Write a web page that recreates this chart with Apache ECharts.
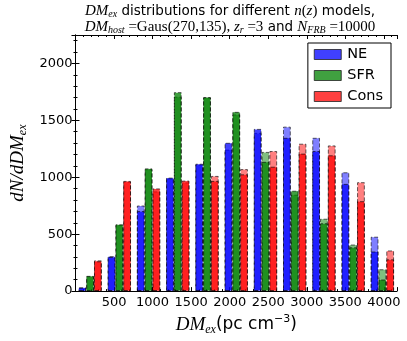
<!DOCTYPE html>
<html>
<head>
<meta charset="utf-8">
<script src="https://cdn.jsdelivr.net/npm/echarts@6/dist/echarts.min.js"></script>
</head>
<body style="margin:0;background:#fff">
<div id="main" style="width:407px;height:341px"></div>
<script>
// bin centres (DM_ex, pc cm^-3)
var binCenters = ['189', '566', '943', '1320', '1697', '2074', '2451', '2828', '3205', '3582', '3959'];

// two overlaid histograms per model: "a" drawn lighter, "b" darker
var neA   = [33, 307, 752, 990, 1110, 1243, 1390, 1445, 1347, 1044, 478];
var neB   = [30, 300, 703, 997, 1119, 1303, 1425, 1347, 1231, 942, 348];
var sfrA  = [130, 580, 1070, 1708, 1700, 1552, 1223, 847, 636, 409, 192];
var sfrB  = [134, 587, 1078, 1748, 1705, 1575, 1136, 882, 596, 385, 102];
var consA = [270, 960, 876, 955, 1012, 1072, 1231, 1295, 1280, 957, 357];
var consB = [262, 968, 902, 971, 968, 1026, 1093, 1208, 1193, 790, 279];

var chart = echarts.init(document.getElementById('main'));

var serif = 'Liberation Serif';
var sans = 'DejaVu Sans';

//柱子
function bar(name, data, rgb, alpha, axisIdx) {
    return {
        name: name,
        type: 'bar',
        xAxisIndex: axisIdx,
        yAxisIndex: 0,
        data: data,
        barGap: '0%',
        barCategoryGap: '20%',
        itemStyle: {
            color: 'rgba(' + rgb + ',' + alpha + ')',
            borderColor: 'rgba(0,0,0,0.6)',
            borderWidth: 1,
            borderType: [4, 2]
        }
    };
}

function plain(v) { return String(v); }

var tickStyle = {inside: true, length: 4, lineStyle: {color: '#000'}};
var minorStyle = {show: true, splitNumber: 5, length: 2, lineStyle: {color: '#000'}};
var lineStyle = {show: true, lineStyle: {color: '#000', width: 1}};

var option = {
    animation: false,
    backgroundColor: '#fff',
    title: {
        left: 230,
        top: 3,
        padding: 0,
        textAlign: 'center',
        text: '{m|DM}{s|ex}{t| distributions for different }{m|n}{r|(}{m|z}{r|)}{t| models,}\n' +
              '{m|DM}{s|host}{r| =Gaus(270,135), }{m|z}{s|r}{r| =3}{t| and }{m|N}{s|FRB}{r| =10000}',
        textStyle: {
            fontWeight: 'normal',
            rich: {
                m: {fontFamily: serif, fontStyle: 'italic', fontWeight: 'normal', fontSize: 15, color: '#000', lineHeight: 16, verticalAlign: 'middle'},
                r: {fontFamily: serif, fontWeight: 'normal', fontSize: 15, color: '#000', lineHeight: 16, verticalAlign: 'middle'},
                t: {fontFamily: sans, fontWeight: 'normal', fontSize: 13.5, color: '#000', lineHeight: 16, verticalAlign: 'middle'},
                s: {fontFamily: serif, fontStyle: 'italic', fontWeight: 'normal', fontSize: 10, color: '#000', lineHeight: 16, verticalAlign: 'bottom'}
            }
        }
    },
    legend: {
        data: ['NE', 'SFR', 'Cons'],
        orient: 'vertical',
        right: 16,
        top: 43,
        itemWidth: 27,
        itemHeight: 10,
        itemGap: 6,
        padding: [4, 8, 4, 6],
        backgroundColor: '#fff',
        borderColor: '#000',
        borderWidth: 1,
        borderRadius: 0,
        icon: 'rect',
        itemStyle: {borderType: 'solid', borderColor: '#222', borderWidth: 0.8},
        textStyle: {fontFamily: sans, fontSize: 14.5, color: '#000', padding: [0, 0, 0, 1]}
    },
    grid: {left: 63, right: 10, top: 35, bottom: 47},
    xAxis: [
        {type: 'category', data: binCenters, show: false},
        {type: 'category', data: binCenters, show: false},
        {
            type: 'value', position: 'bottom', min: 0, max: 4170, interval: 500,
            axisLine: lineStyle, axisTick: tickStyle, minorTick: minorStyle,
            splitLine: {show: false},
            axisLabel: {showMinLabel: false, showMaxLabel: false, formatter: plain, color: '#000', fontFamily: sans, fontSize: 13, margin: 5},
            name: '{m|DM}{s|ex}{t|(pc cm}{u|−3}{t|)}',
            nameLocation: 'middle',
            nameGap: 16,
            nameTextStyle: {
                rich: {
                    m: {fontFamily: serif, fontStyle: 'italic', fontSize: 19, color: '#000', lineHeight: 22, verticalAlign: 'middle'},
                    s: {fontFamily: serif, fontStyle: 'italic', fontSize: 12, color: '#000', lineHeight: 22, verticalAlign: 'bottom'},
                    t: {fontFamily: sans, fontSize: 17, color: '#000', lineHeight: 22, verticalAlign: 'middle'},
                    u: {fontFamily: sans, fontSize: 11, color: '#000', lineHeight: 22, verticalAlign: 'top'}
                }
            }
        },
        {
            type: 'value', position: 'top', min: 0, max: 4170, interval: 500,
            axisLine: lineStyle, axisTick: tickStyle, minorTick: minorStyle,
            splitLine: {show: false}, axisLabel: {show: false}
        }
    ],
    yAxis: [
        {
            type: 'value', position: 'left', min: 0, max: 2250, interval: 500,
            axisLine: lineStyle, axisTick: tickStyle, minorTick: minorStyle,
            splitLine: {show: false},
            axisLabel: {showMaxLabel: false, formatter: plain, color: '#000', fontFamily: sans, fontSize: 13, margin: 3},
            name: '{m|dN/dDM}{s|ex}',
            nameLocation: 'middle',
            nameGap: 36,
            nameTextStyle: {
                rich: {
                    m: {fontFamily: serif, fontStyle: 'italic', fontSize: 19, color: '#000', lineHeight: 22, verticalAlign: 'middle'},
                    s: {fontFamily: serif, fontStyle: 'italic', fontSize: 12, color: '#000', lineHeight: 22, verticalAlign: 'bottom'}
                }
            }
        },
        {
            type: 'value', position: 'right', min: 0, max: 2250, interval: 500,
            axisLine: lineStyle, axisTick: tickStyle, minorTick: minorStyle,
            splitLine: {show: false}, axisLabel: {show: false}
        }
    ],
    series: [
        bar('NE a', neA, '0,0,255', 0.5, 0),
        bar('SFR a', sfrA, '0,128,0', 0.5, 0),
        bar('Cons a', consA, '255,0,0', 0.5, 0),
        bar('NE', neB, '0,0,255', 0.75, 1),
        bar('SFR', sfrB, '0,128,0', 0.75, 1),
        bar('Cons', consB, '255,0,0', 0.75, 1)
    ]
};

chart.setOption(option);
</script>
</body>
</html>
